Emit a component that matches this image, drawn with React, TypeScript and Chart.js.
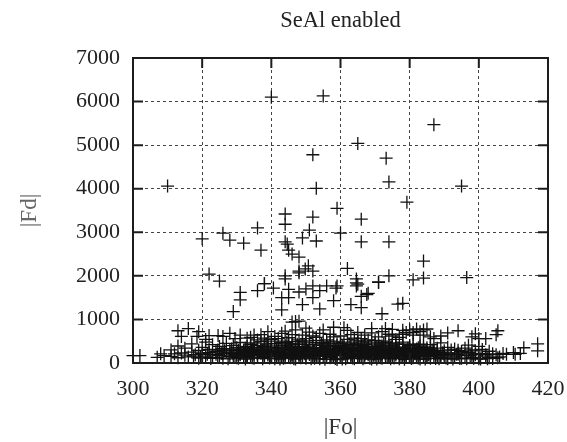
import React, { useEffect, useRef } from "react";
import { Chart, registerables } from "chart.js";

Chart.register(...registerables);

const chartTitle = "SeAl enabled";
const xLabel = "|Fo|";
const yLabel = "|Fd|";

const outliers: [number, number][] = [
  [310,4060],[340,6100],[355,6130],[365,5040],[387,5470],[373.2,4700],[374,4155],[395,4060],[352,4780],[353,4010],
  [379.2,3690],[344,3420],[344,3185],[352,3350],[351,3050],[326,2980],[320,2850],[328,2820],[332,2750],[336,3100],
  [337,2590],[349,2870],[353,2800],[344,2780],[344.6,2730],[345,2590],[346,2500],[348,2430],[348,2110],[350.7,2230],
  [349.8,2160],[352,2110],[322,2040],[325,1880],[338,1820],[344,1930],[359,3550],[366,3300],[360,2980],
  [366,2780],[374,2780],[384,2340],[362,2170],[364.6,1930],[364.6,1840],[364.6,1770],[371,1860],[374,2000],[381,1910],
  [384,1950],[359,1770],[356,1770],[396.5,1960],[344,2000],[348,2070],
];

const scattered: [number, number][] = [
  [340.6,1720],[343,1500],[345,1500],[343,1220],[349,1340],[354,1240],[358,1430],[352,1500],[348,1630],[354,1660],
  [358.7,1720],[352,1770],[365,1810],[367.6,1570],[363,1340],[366,1270],[371,1850],[372,1130],[376.6,1350],[378,1370],
  [329,1180],[331,1450],[331,1620],[336,1660],[338,1820],[345,1690],[350,1700],[347,950],[348,960],[346,940],
  [366,1530],[368,1600],
];

const upperBand: [number, number][] = [
  [316,790],[314,610],[318.5,610],[322,630],[324.6,630],[329.5,560],[313,740],[319,720],[328,680],[331,640],
  [334,590],[337,650],[339,720],[341,610],[343,680],[345,580],[347,760],[349,640],[351,710],[353,590],
  [355,760],[357,660],[358,820],[360,620],[362,750],[364,570],[365,700],[367,640],[369,790],[371,600],
  [372,720],[374,660],[375,770],[377,590],[378,750],[379,700],[380,760],[381,640],[382,780],[383,720],
  [384,760],[385,780],[386,600],[387,560],[389,620],[391,690],[394,740],[399,670],[400,560],[405.5,740],
  [405,650],[402,560],[398,600],[336,530],[333,570],[326,610],[321,540],[344,730],[350,800],[356,530],
  [361,810],[366,560],[373,790],[376,540],[340,540],[348,530],[368,530],[352,620],[354,680],[358,600],
  [363,650],[369,690],[346,650],[342,560],[335,640],[338,570],[375,620],[378,660],[381,700],[384,640],
];

const middleBand: [number, number][] = [
  [311,300],[313,390],[315,340],[317,440],[319,290],[320,360],[321,480],[322,310],[323,420],[324,270],
  [325,380],[326,330],[327,450],[328,290],[329,400],[330,350],[331,470],[332,300],[333,380],[334,430],
  [335,280],[336,360],[337,490],[338,320],[339,410],[340,270],[341,450],[342,350],[343,500],[344,300],
  [345,390],[346,440],[347,280],[348,360],[349,510],[350,320],[351,420],[352,270],[353,470],[354,350],
  [355,400],[356,290],[357,500],[358,370],[359,440],[360,310],[361,480],[362,280],[363,400],[364,350],
  [365,510],[366,290],[367,430],[368,370],[369,480],[370,300],[371,410],[372,350],[373,500],[374,280],
  [375,390],[376,440],[377,320],[378,480],[379,270],[380,370],[381,430],[382,300],[383,390],[384,280],
  [385,350],[386,420],[387,290],[388,340],[389,460],[390,280],[391,360],[392,300],[393,320],[394,290],
  [395,270],[396,340],[397,410],[398,300],[399,280],[400,380],[401,310],[403,270],[337.5,300],[341.5,330],
  [345.5,340],[349.5,380],[352.5,300],[356.5,340],[360.5,400],[363.5,300],[367.5,320],[371.5,290],[375.5,310],[379.5,340],
  [332.5,340],[328.5,320],[324.5,300],[342.5,280],[347.5,430],[354.5,440],[358.5,290],[362.5,430],[366.5,360],[370.5,380],
  [374.5,340],[378.5,300],[382.5,350],[386.5,300],[338.5,440],[334.5,310],[330.5,290],[326.5,280],[344.5,470],[350.5,270],
  [355.5,320],[359.5,360],[364.5,440],[368.5,290],[372.5,440],[376.5,270],
];

const denseCore: [number, number][] = [
  [329,150],[332,175],[335,205],[338,155],[341,230],[344,180],[347,260],[350,145],[353,200],[356,235],
  [359,170],[362,255],[365,140],[368,210],[371,180],[374,245],[377,160],[380,225],[383,190],[386,150],
  [330,250],[333,285],[336,315],[339,265],[342,340],[345,295],[348,375],[351,305],[354,265],[357,385],
  [360,290],[363,345],[366,405],[369,260],[372,320],[375,270],[378,365],[381,255],[384,330],[387,270],
  [331,205],[334,165],[337,225],[340,195],[343,150],[346,215],[349,240],[352,180],[355,155],[358,225],
  [361,200],[364,165],[367,245],[370,205],[373,170],[376,230],[379,200],[382,150],[385,240],[388,195],
  [331,310],[334,355],[337,270],[340,320],[343,395],[346,305],[349,350],[352,415],[355,295],[358,330],
  [361,365],[364,285],[367,375],[370,335],[373,295],[376,360],[379,300],[382,270],[385,310],[388,290],
  [333,135],[336,240],[339,185],[342,265],[345,165],[348,135],[351,195],[354,225],[357,145],[360,240],
  [363,180],[366,220],[369,150],[372,260],[375,195],[378,140],[381,175],[384,210],[387,170],[390,165],
  [328,230],[332,220],[335,340],[338,375],[341,290],[344,410],[347,335],[350,430],[353,330],[356,440],
  [359,400],[362,330],[365,460],[368,320],[371,360],[374,410],[377,280],[380,320],[383,290],[386,340],
  [330,195],[334,255],[338,225],[342,205],[346,280],[350,215],[354,300],[358,260],[362,210],[366,270],
  [370,240],[374,215],[378,250],[382,230],[386,220],[390,230],[394,200],[398,210],[402,190],[326,215],
  [352,350],[348,300],[344,350],[340,370],[336,400],[356,380],[360,340],[364,395],[368,340],[372,390],
  [376,330],[380,400],[384,370],[340,160],[348,190],[356,200],[364,230],[372,215],[380,160],[388,245],
  [345,440],[350,480],[355,470],[360,450],[365,420],[370,440],[375,460],[350,560],[362,540],[370,520],
  [343,470],[358,480],[347,490],[367,500],[353,520],[373,470],[339,500],[335,460],[378,430],[383,430],
  [333,160],[335,230],[337,295],[339,345],[341,190],[343,255],[345,320],[347,170],[349,285],[351,345],
  [353,160],[355,265],[357,325],[359,210],[361,280],[363,150],[365,310],[367,195],[369,340],[371,270],
  [373,205],[375,355],[377,240],[379,170],[381,335],[383,245],[385,170],[387,215],[389,180],[391,225],
  [334,280],[336,185],[338,300],[340,230],[342,165],[344,285],[346,365],[348,240],[350,370],[352,235],
  [354,175],[356,310],[358,170],[360,375],[362,185],[364,320],[366,170],[368,275],[370,165],[372,300],
  [374,175],[376,295],[378,215],[380,285],[382,320],[384,175],[386,265],[344,230],[348,330],[352,270],
  [356,260],[360,205],[364,265],[368,240],[372,185],[376,185],[380,255],[340,290],[336,210],[332,265],
  [346,190],[350,250],[354,340],[358,195],[362,300],[366,325],[370,285],[374,320],[378,315],[382,190],
];

const lowerBand: [number, number][] = [
  [300,170],[302,170],[307,130],[308,210],[309,170],[311,150],[312,210],[313,120],[314,230],[315,180],
  [316,140],[317,250],[318,190],[319,110],[320,220],[321,160],[322,240],[323,130],[324,200],[325,170],
  [326,110],[327,250],[328,150],[329,210],[330,120],[331,190],[332,240],[333,140],[334,200],[335,110],
  [336,170],[337,240],[338,130],[339,210],[340,160],[341,100],[342,230],[343,180],[344,120],[345,250],
  [346,150],[347,90],[348,210],[349,170],[350,110],[351,240],[352,140],[353,190],[354,100],[355,230],
  [356,160],[357,120],[358,210],[359,80],[360,180],[361,240],[362,130],[363,200],[364,100],[365,170],
  [366,230],[367,120],[368,190],[369,90],[370,220],[371,150],[372,110],[373,250],[374,170],[375,130],
  [376,210],[377,100],[378,190],[379,140],[380,240],[381,120],[382,180],[383,90],[384,220],[385,150],
  [386,110],[387,240],[388,170],[389,130],[390,200],[391,100],[392,180],[393,140],[394,230],[395,110],
  [396,170],[397,240],[398,130],[399,190],[400,100],[401,220],[402,160],[403,120],[404,210],[405,190],
  [406,140],[407,220],[408,200],[410,240],[410.5,200],[412,220],[413,350],[417,440],[417,280],[333.5,250],
  [337.5,190],[341.5,170],[345.5,120],[349.5,210],[353.5,150],[357.5,170],[361.5,100],[365.5,140],[369.5,180],[373.5,140],
  [377.5,160],[381.5,210],[385.5,190],[389.5,230],[393.5,200],[397.5,170],[329.5,170],[325.5,220],[321.5,200],[317.5,160],
  [319.5,130],[322.5,105],[324.5,125],[327.5,95],[330.5,110],[332.5,90],[334.5,120],[337.5,100],[339.5,115],[342.5,90],
  [343.5,110],[346.5,100],[348.5,120],[351.5,95],[352.5,110],[355.5,85],[358.5,105],[360.5,90],[363.5,115],[366.5,95],
  [368.5,110],[370.5,90],[371.5,120],[374.5,95],[375.5,115],[378.5,85],[380.5,105],[382.5,115],[384.5,90],[387.5,105],
  [388.5,95],[390.5,115],[392.5,90],[394.5,105],[396.5,95],[398.5,110],[400.5,90],[402.5,100],[404,105],[405.5,120],
];

const plusPoints = [...outliers, ...scattered, ...upperBand, ...middleBand, ...denseCore, ...lowerBand].map(
  ([x, y]) => ({ x, y })
);

const axisColor = "#1c1c1c";
const gridColor = "#444444";
const serif = "'Liberation Serif', serif";

const frameAndTicks = {
  id: "frameAndTicks",
  afterDatasetsDraw(chart: any) {
    const { ctx, chartArea: a, scales } = chart;
    ctx.save();
    ctx.strokeStyle = axisColor;
    ctx.lineWidth = 2;
    ctx.strokeRect(a.left, a.top, a.right - a.left, a.bottom - a.top);
    scales.x.ticks.forEach((_: any, i: number) => {
      const p = scales.x.getPixelForTick(i);
      ctx.beginPath();
      ctx.moveTo(p, a.bottom);
      ctx.lineTo(p, a.bottom - 10);
      ctx.moveTo(p, a.top);
      ctx.lineTo(p, a.top + 10);
      ctx.stroke();
    });
    scales.y.ticks.forEach((_: any, i: number) => {
      const p = scales.y.getPixelForTick(i);
      ctx.beginPath();
      ctx.moveTo(a.left, p);
      ctx.lineTo(a.left + 10, p);
      ctx.moveTo(a.right, p);
      ctx.lineTo(a.right - 10, p);
      ctx.stroke();
    });
    ctx.restore();
  },
};

export default function App() {
  const ref = useRef<HTMLCanvasElement>(null);
  useEffect(() => {
    const chart = new Chart(ref.current!, {
      type: "scatter",
      data: {
        datasets: [
          {
            data: plusPoints,
            pointStyle: "cross",
            pointRadius: 6.5,
            pointBorderWidth: 1.3,
            pointBorderColor: "#111111",
            pointBackgroundColor: "#111111",
          },
        ],
      },
      options: {
        animation: false,
        responsive: false,
        clip: false,
        layout: { padding: { left: 16, right: 19, top: 8, bottom: 0 } },
        plugins: {
          legend: { display: false },
          tooltip: { enabled: false },
          title: {
            display: true,
            text: chartTitle,
            fullSize: false,
            color: "#222222",
            font: { family: serif, size: 22.5, weight: "normal" },
            padding: { top: 0, bottom: 23 },
          },
        },
        scales: {
          x: {
            type: "linear",
            min: 300,
            max: 420,
            ticks: {
              stepSize: 20,
              color: "#222222",
              font: { family: serif, size: 22 },
              padding: 13,
              maxRotation: 0,
            },
            grid: { color: gridColor, drawTicks: false, lineWidth: 1 },
            border: { dash: [3, 3], display: false },
            title: {
              display: true,
              text: xLabel,
              color: "#333333",
              font: { family: serif, size: 23 },
              padding: { top: 14, bottom: 0 },
            },
            afterFit(scale: any) {
              scale.height = 79;
              scale.paddingLeft = 0;
              scale.paddingRight = 0;
            },
          },
          y: {
            type: "linear",
            min: 0,
            max: 7000,
            ticks: {
              stepSize: 1000,
              color: "#222222",
              font: { family: serif, size: 22 },
              padding: 13,
              callback: (v: any) => String(v),
            },
            grid: { color: gridColor, drawTicks: false, lineWidth: 1 },
            border: { dash: [3, 3], display: false },
            title: {
              display: true,
              text: yLabel,
              color: "#666666",
              font: { family: serif, size: 23 },
              padding: { top: 0, bottom: 10 },
            },
            afterFit(scale: any) {
              scale.width = 117;
              scale.paddingTop = 0;
              scale.paddingBottom = 0;
            },
          },
        },
      },
      plugins: [frameAndTicks],
    } as any);
    return () => chart.destroy();
  }, []);
  return (
    <canvas
      ref={ref}
      width={567}
      height={442}
      style={{ position: "absolute", left: 0, top: 0, display: "block" }}
    />
  );
}
